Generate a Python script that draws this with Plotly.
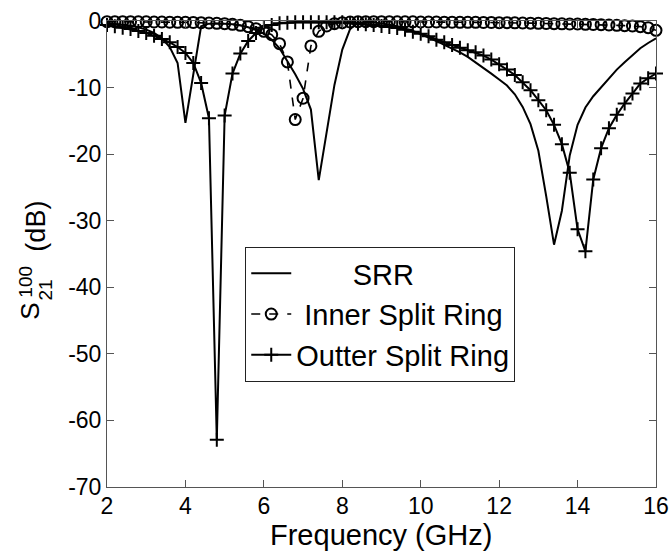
import plotly.graph_objects as go

freq = [2.0, 2.2, 2.4, 2.6, 2.8, 3.0, 3.2, 3.4, 3.6, 3.8,
        4.0, 4.2, 4.4, 4.6, 4.8, 5.0, 5.2, 5.4, 5.6, 5.8,
        6.0, 6.2, 6.4, 6.6, 6.8, 7.0, 7.2, 7.4, 7.6, 7.8,
        8.0, 8.2, 8.4, 8.6, 8.8, 9.0, 9.2, 9.4, 9.6, 9.8,
        10.0, 10.2, 10.4, 10.6, 10.8, 11.0, 11.2, 11.4, 11.6, 11.8,
        12.0, 12.2, 12.4, 12.6, 12.8, 13.0, 13.2, 13.4, 13.6, 13.8,
        14.0, 14.2, 14.4, 14.6, 14.8, 15.0, 15.2, 15.4, 15.6, 15.8,
        16.0]

srr = [-0.3, -0.4, -0.5, -0.7, -0.95, -1.3, -1.8, -2.6, -3.9, -6.3,
       -15.3, -8.1, -0.8, -0.4, -0.35, -0.4, -0.5, -0.65, -0.95, -1.35,
       -1.9, -2.8, -4.1, -6.0, -8.0, -10.2, -13.3, -23.9, -16.5, -9.6,
       -4.3, -1.2, -0.3, -0.15, -0.2, -0.35, -0.55, -0.8, -1.1, -1.5,
       -1.95, -2.45, -3.0, -3.6, -4.1, -4.7, -5.4, -6.2, -7.0, -7.9,
       -8.8, -9.7, -11.0, -12.9, -15.5, -19.5, -26.3, -33.6, -28.5, -20.2,
       -15.6, -13.0, -11.3, -10.0, -8.7, -7.3, -6.2, -5.1, -4.1, -3.3,
       -2.6]

inner = [-0.1, -0.1, -0.1, -0.1, -0.12, -0.12, -0.15, -0.15, -0.18, -0.2,
         -0.2, -0.22, -0.25, -0.3, -0.35, -0.4, -0.5, -0.65, -0.85, -1.15,
         -1.55, -2.05, -3.4, -6.15, -14.8, -11.6, -3.75, -1.55, -0.75, -0.4,
         -0.25, -0.15, -0.1, -0.1, -0.1, -0.1, -0.1, -0.12, -0.12, -0.12,
         -0.15, -0.15, -0.15, -0.18, -0.18, -0.2, -0.2, -0.2, -0.22, -0.22,
         -0.25, -0.25, -0.27, -0.3, -0.32, -0.35, -0.37, -0.4, -0.42, -0.45,
         -0.45, -0.5, -0.52, -0.55, -0.6, -0.65, -0.7, -0.75, -0.85, -1.0,
         -1.4]

outer = [-0.6, -0.8, -1.0, -1.2, -1.5, -1.8, -2.2, -2.7, -3.2, -3.9,
         -4.8, -6.3, -9.3, -14.6, -62.9, -14.2, -7.9, -4.9, -3.0, -1.8,
         -1.0, -0.6, -0.35, -0.25, -0.2, -0.2, -0.2, -0.2, -0.2, -0.2,
         -0.2, -0.3, -0.4, -0.5, -0.6, -0.75, -0.9, -1.05, -1.3, -1.6,
         -1.9, -2.3, -2.8, -3.2, -3.6, -4.0, -4.4, -4.7, -5.2, -5.8,
         -6.5, -7.3, -8.1, -9.2, -10.4, -11.9, -13.4, -15.6, -18.5, -22.8,
         -31.3, -34.6, -23.8, -19.1, -16.1, -14.1, -12.4, -10.9, -9.4, -8.6,
         -7.9]

names = ["\u00a0" * 7 + "SRR", "\u00a0" + "Inner Split Ring", "Outter Split Ring"]
x_ticks = [2, 4, 6, 8, 10, 12, 14, 16]
y_ticks = [0, -10, -20, -30, -40, -50, -60, -70]

FONT = "Liberation Sans, Arial, sans-serif"

fig = go.Figure()
fig.add_trace(go.Scatter(x=freq, y=srr, mode="lines", name=names[0],
                         line=dict(color="black", width=2),
                         legendgroup="a", cliponaxis=False))
fig.add_trace(go.Scatter(x=freq, y=inner, mode="lines+markers", name=names[1],
                         line=dict(color="black", width=1.6, dash="dash"),
                         marker=dict(symbol="circle-open", size=11, color="black",
                                     line=dict(width=2, color="black")),
                         legendgroup="b", cliponaxis=False))
fig.add_trace(go.Scatter(x=freq, y=outer, mode="lines+markers", name=names[2],
                         line=dict(color="black", width=2),
                         marker=dict(symbol="cross-thin-open", size=10, color="black",
                                     line=dict(width=2, color="black")),
                         legendgroup="c", cliponaxis=False))

L, R, T, B = 106.5, 13.5, 21, 67
W, H = 670, 554
pw, ph = W - L - R, H - T - B

def px(x):
    return (x - L) / pw

def py(y):
    return (H - B - y) / ph

axis_common = dict(showgrid=False, zeroline=False, showline=True, linecolor="#555",
                   linewidth=1, mirror="ticks", ticks="inside", ticklen=7,
                   tickcolor="#555", tickfont=dict(size=23, family=FONT),
                   automargin=False)

fig.update_layout(
    template="none",
    width=W, height=H,
    margin=dict(l=L, r=R, t=T, b=B, pad=0),
    paper_bgcolor="white", plot_bgcolor="white",
    font=dict(family=FONT, color="black", size=22),
    showlegend=True,
    legend=dict(x=px(245), y=py(247), xanchor="left", yanchor="top",
                bordercolor="#222", borderwidth=1, bgcolor="white",
                font=dict(size=29, family=FONT), tracegroupgap=0,
                itemwidth=40),
    xaxis=dict(range=[2, 16], tickvals=x_ticks, ticktext=[str(v) for v in x_ticks],
               ticklabelstandoff=-2, **axis_common),
    yaxis=dict(range=[-70, 0], tickvals=y_ticks, ticktext=[str(v) for v in y_ticks],
               **axis_common),
)

fig.add_annotation(text="Frequency (GHz)", xref="paper", yref="paper",
                   x=px(381), y=py(535), xanchor="center", yanchor="middle",
                   showarrow=False, font=dict(size=29, family=FONT, color="black"))

ann = [
    ("S", 29, 311, 26),
    ("100", 24, 282, 19),
    ("21", 44, 290, 19),
    ("(dB)", 35, 226, 27),
]
for txt, ax, ay, fs in ann:
    fig.add_annotation(text=txt, xref="paper", yref="paper", x=px(ax), y=py(ay),
                       xanchor="center", yanchor="middle", showarrow=False,
                       textangle=-90, font=dict(size=fs, family=FONT, color="black"))

fig.write_html("out.html")
